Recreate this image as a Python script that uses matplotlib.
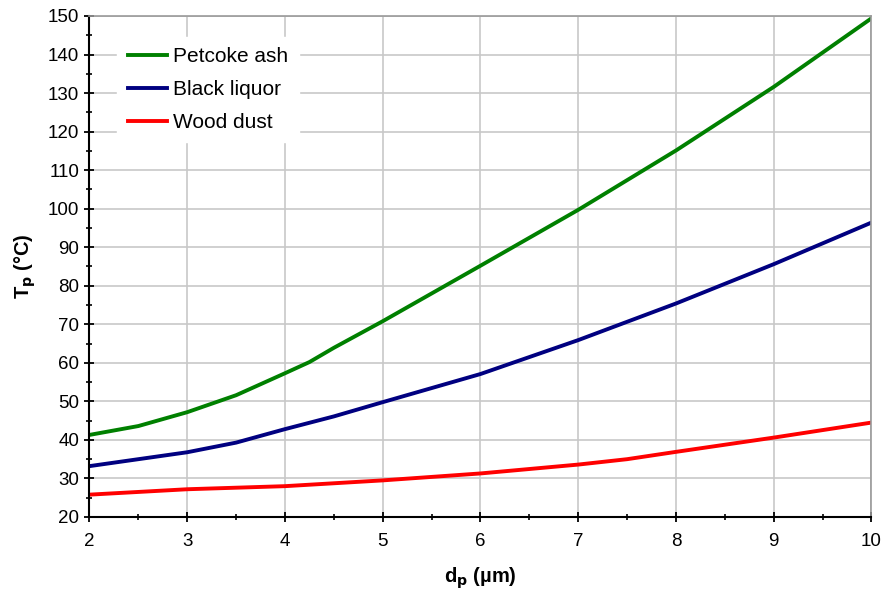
import matplotlib

matplotlib.use("Agg")
import matplotlib.pyplot as plt
from matplotlib.ticker import MultipleLocator

plt.rcParams["font.family"] = ["Liberation Sans", "DejaVu Sans"]

# particle diameter (um) vs particle temperature (C)
DP_PETCOKE = [2, 2.5, 2.75, 3, 3.5, 4, 4.25, 4.5, 5, 6, 7, 8, 9, 10]
T_PETCOKE = [41.3, 43.6, 45.4, 47.2, 51.6, 57.3, 60.2, 63.9, 70.8, 85.2, 99.7, 115.1, 131.6, 149.4]
DP_BLACK = [2, 3, 3.5, 4, 4.5, 5, 6, 7, 8, 9, 10]
T_BLACK = [33.2, 36.8, 39.3, 42.8, 46.1, 49.8, 57.1, 65.9, 75.4, 85.6, 96.4]
DP_WOOD = [2, 3, 4, 5, 6, 7, 7.5, 8, 9, 10]
T_WOOD = [25.8, 27.2, 28.0, 29.5, 31.3, 33.6, 35.0, 36.9, 40.6, 44.5]

fig = plt.figure(figsize=(8.87, 5.92), dpi=100)
ax = fig.add_axes([0.1009, 0.1267, 0.8816, 0.8463])

ax.plot(DP_PETCOKE, T_PETCOKE, color="#008000", lw=2.8, label="Petcoke ash")
ax.plot(DP_BLACK, T_BLACK, color="#000080", lw=2.8, label="Black liquor")
ax.plot(DP_WOOD, T_WOOD, color="#ff0000", lw=2.8, label="Wood dust")

ax.set_xlim(2, 10)
ax.set_ylim(20, 150)
ax.xaxis.set_major_locator(MultipleLocator(1))
ax.xaxis.set_minor_locator(MultipleLocator(0.5))
ax.yaxis.set_major_locator(MultipleLocator(10))
ax.yaxis.set_minor_locator(MultipleLocator(5))
ax.grid(True, which="major", color="#c8c8c8", lw=1.2)
ax.set_axisbelow(True)

for s in ("top", "right"):
    ax.spines[s].set_color("#999999")
    ax.spines[s].set_linewidth(1.2)
for s in ("left", "bottom"):
    ax.spines[s].set_color("black")
    ax.spines[s].set_linewidth(1.5)

ax.tick_params(which="major", direction="inout", length=7, width=1.3,
               labelsize=13.5, colors="black")
ax.tick_params(which="minor", direction="inout", length=4.5, width=1.2)
ax.tick_params(axis="x", pad=8)
ax.tick_params(axis="y", pad=4)

ax.set_xlabel("d$_\\mathbf{p}$ (µm)", fontsize=14.5, fontweight="bold", labelpad=11)
ax.set_ylabel("T$_\\mathbf{p}$ (°C)", fontsize=14.5, fontweight="bold", labelpad=7)

leg = ax.legend(loc="upper left", bbox_to_anchor=(0.022, 0.979), frameon=True,
                fontsize=15, handlelength=1.9, handletextpad=0.3,
                labelspacing=0.66, borderpad=0.5, fancybox=False)
leg.get_frame().set_edgecolor("white")
leg.get_frame().set_facecolor("white")
leg.get_frame().set_alpha(1)

fig.savefig("out.png", dpi=100)
